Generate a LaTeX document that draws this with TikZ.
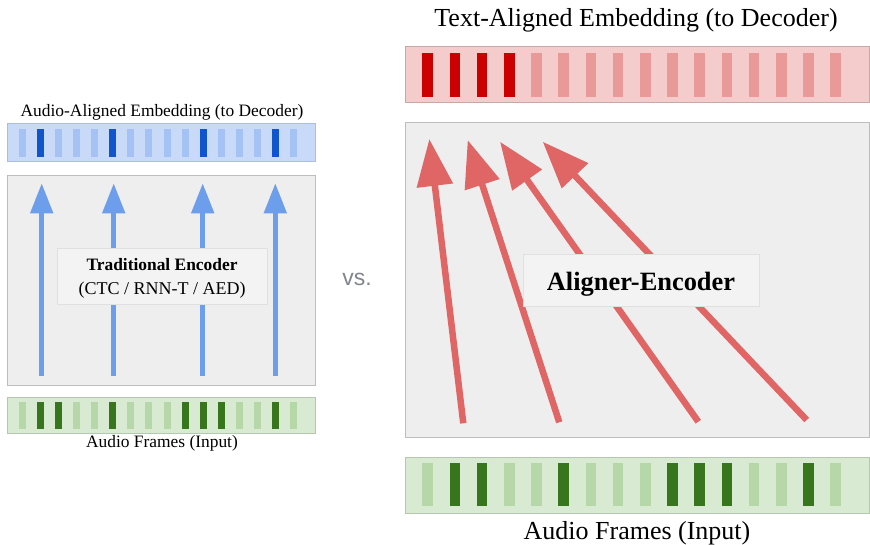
\documentclass[tikz,border=0pt]{standalone}
\usepackage{fontspec}
\setmainfont{Liberation Serif}
\newfontfamily\vsfont{Liberation Sans}
\usetikzlibrary{arrows.meta}
\definecolor{panelfill}{HTML}{EEEEEE}
\definecolor{paneldraw}{HTML}{BDBDBD}
\definecolor{boxfill}{HTML}{F3F3F3}
\definecolor{boxdraw}{HTML}{E0E0E0}
\definecolor{blueBar}{HTML}{C9DAF8}
\definecolor{blueBorder}{HTML}{A9BEE2}
\definecolor{blueL}{HTML}{A4C2F4}
\definecolor{blueD}{HTML}{1155CC}
\definecolor{greenBar}{HTML}{D9EAD3}
\definecolor{greenBorder}{HTML}{B5C8AE}
\definecolor{greenL}{HTML}{B6D7A8}
\definecolor{greenD}{HTML}{38761D}
\definecolor{redBar}{HTML}{F4CCCC}
\definecolor{redBorder}{HTML}{C6A8A8}
\definecolor{redL}{HTML}{EA9999}
\definecolor{redD}{HTML}{CC0000}
\definecolor{blueArrow}{HTML}{6D9EEB}
\definecolor{redArrow}{HTML}{E06666}
\definecolor{vsgray}{HTML}{80868B}
\begin{document}
\begin{tikzpicture}[x=1pt,y=-1pt,
  every node/.style={inner sep=0pt, outer sep=0pt},
  panel/.style={draw=paneldraw, fill=panelfill, line width=1pt},
  textbox/.style={draw=boxdraw, fill=boxfill, line width=0.8pt},
  bar/.style={line width=1pt},
  stripe/.style={draw=none},
  smalltxt/.style={font=\fontsize{17.4}{20}\selectfont, anchor=base},
  bigtxt/.style={font=\fontsize{26}{30}\selectfont, anchor=base},
  bluearrow/.style={draw=blueArrow, line width=5pt, -{Triangle[length=30pt,width=22pt]}},
  redarrow/.style={draw=redArrow, line width=6.5pt, -{Triangle[length=47pt,width=35pt]}}
]
\useasboundingbox (0,0) rectangle (870,544);

% ---------------- LEFT ----------------
\node[smalltxt] (lembtxt) at (162,116.7) {Audio-Aligned Embedding (to Decoder)};
\node[bar, draw=blueBorder, fill=blueBar, minimum width=308.5pt, minimum height=38pt] (lemb) at (161.5,142.3) {};
\foreach \i/\c in {1/blueL,2/blueD,3/blueL,4/blueL,5/blueL,6/blueD,7/blueL,8/blueL,9/blueL,10/blueL,11/blueD,12/blueL,13/blueL,14/blueL,15/blueD,16/blueL}
  \node[stripe, fill=\c, minimum width=7pt, minimum height=28pt] (lb\i) at ({22.7+18.04*(\i-1)},143) {};

\node[panel, minimum width=308.5pt, minimum height=209.5pt] (lpanel) at (161.5,280.5) {};

\foreach \i/\x in {1/41.7,2/113.7,3/202.7,4/275.3}{
  \coordinate (las\i) at (\x,375.7);
  \coordinate (lae\i) at (\x,183.3);
  \draw[bluearrow] (las\i) -- (lae\i);
}
\node[textbox, minimum width=210pt, minimum height=56pt] (tradbox) at (162,276) {};
\node[smalltxt, font=\fontsize{17.4}{20}\selectfont\bfseries] (tradtxt) at (162,270.7) {Traditional Encoder};
\node[smalltxt, font=\fontsize{18}{20}\selectfont] (tradsub) at (162,294) {(CTC / RNN-T / AED)};

\node[bar, draw=greenBorder, fill=greenBar, minimum width=308.5pt, minimum height=36pt] (laud) at (161.5,415) {};
\foreach \i/\c in {1/greenL,2/greenD,3/greenD,4/greenL,5/greenL,6/greenD,7/greenL,8/greenL,9/greenL,10/greenD,11/greenD,12/greenD,13/greenL,14/greenL,15/greenD,16/greenL}
  \node[stripe, fill=\c, minimum width=7pt, minimum height=27pt] (lg\i) at ({22.7+18.04*(\i-1)},415.5) {};
\node[smalltxt] (laudtxt) at (162,447.5) {Audio Frames (Input)};

% ---------------- VS ----------------
\node[anchor=base, font=\vsfont\fontsize{23}{26}\selectfont, text=vsgray] (vs) at (357,285) {vs.};

% ---------------- RIGHT ----------------
\node[bigtxt] (rembtxt) at (636,26) {Text-Aligned Embedding (to Decoder)};
\node[bar, draw=redBorder, fill=redBar, minimum width=464pt, minimum height=55.6pt] (remb) at (637,74.5) {};
\foreach \i/\c in {1/redD,2/redD,3/redD,4/redD,5/redL,6/redL,7/redL,8/redL,9/redL,10/redL,11/redL,12/redL,13/redL,14/redL,15/redL,16/redL}
  \node[stripe, fill=\c, minimum width=10.5pt, minimum height=43.4pt] (rr\i) at ({427.7+27.2*(\i-1)},75) {};

\node[panel, minimum width=464pt, minimum height=315.5pt] (rpanel) at (637,279.8) {};

\coordinate (ras1) at (463.3,423.3); \coordinate (rae1) at (429.3,139);
\coordinate (ras2) at (559.3,422.3); \coordinate (rae2) at (467.7,140);
\coordinate (ras3) at (698.3,421.7); \coordinate (rae3) at (500,141.7);
\coordinate (ras4) at (806.7,420);   \coordinate (rae4) at (542.7,141.7);
\foreach \i in {1,...,4}
  \draw[redarrow] (ras\i) -- (rae\i);

\node[textbox, minimum width=236pt, minimum height=52pt] (alignbox) at (641,280) {};
\node[bigtxt, font=\fontsize{26.4}{30}\selectfont\bfseries] (aligntxt) at (641,290) {Aligner-Encoder};

\node[bar, draw=greenBorder, fill=greenBar, minimum width=464pt, minimum height=56pt] (raud) at (637,485) {};
\foreach \i/\c in {1/greenL,2/greenD,3/greenD,4/greenL,5/greenL,6/greenD,7/greenL,8/greenL,9/greenL,10/greenD,11/greenD,12/greenD,13/greenL,14/greenL,15/greenD,16/greenL}
  \node[stripe, fill=\c, minimum width=10.5pt, minimum height=42.7pt] (rg\i) at ({427.7+27.2*(\i-1)},484.7) {};
\node[bigtxt] (raudtxt) at (637,539.3) {Audio Frames (Input)};
\end{tikzpicture}
\end{document}
